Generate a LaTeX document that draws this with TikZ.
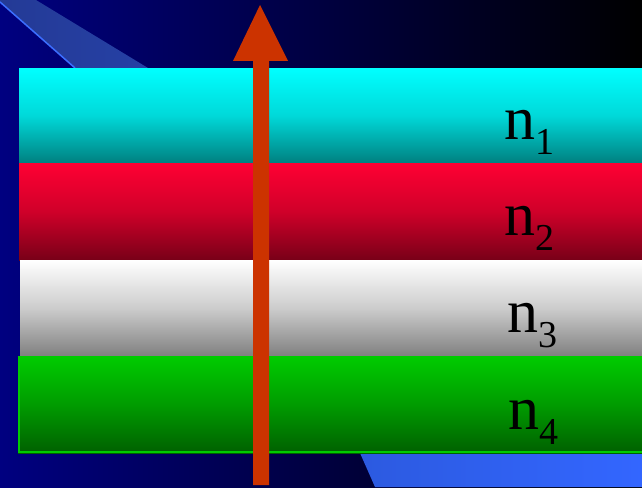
\documentclass[tikz,border=0pt]{standalone}
\usepackage{fontspec}
\setmainfont{Liberation Serif}
\definecolor{navybg}{RGB}{0,0,128}
\definecolor{bandblue}{RGB}{36,58,150}
\definecolor{bandline}{RGB}{60,110,255}
\definecolor{lowblueA}{RGB}{44,90,224}
\definecolor{lowblueB}{RGB}{51,102,255}
\definecolor{arrowred}{RGB}{204,51,0}
\definecolor{cyantop}{RGB}{0,255,255}
\definecolor{cyanbot}{RGB}{0,128,128}
\definecolor{redtop}{RGB}{255,0,51}
\definecolor{redbot}{RGB}{120,0,24}
\definecolor{whitetop}{RGB}{255,255,255}
\definecolor{whitebot}{RGB}{128,128,128}
\definecolor{greentop}{RGB}{0,204,0}
\definecolor{greenbot}{RGB}{0,96,0}
\tikzset{
  lbl/.style={anchor=base west, inner sep=0pt, font=\fontsize{62}{70}\selectfont},
  layer/.style={shading angle=0}
}
\newcommand{\subidx}[1]{\raisebox{-15pt}{\fontsize{38}{40}\selectfont #1}}
\begin{document}
\begin{tikzpicture}[x=1pt,y=-1pt]
\useasboundingbox (0,0) rectangle (642,487);
% background
\shade[left color=navybg, right color=black] (0,0) rectangle (642,487);
% top-left band
\shade[left color=bandblue, right color=bandblue!80!lowblueA] (0,0) -- (36,0) -- (148,68) -- (75,68) -- (0,2) -- cycle;
\draw[bandline, line width=1.5pt] (0,2) -- (75,68);
% bottom-right band
\shade[left color=lowblueA, right color=lowblueB] (360,453) -- (642,453) -- (642,487) -- (375,487) -- cycle;
% layers
\shade[top color=cyantop, bottom color=cyanbot, middle color=cyantop!70!cyanbot] (19,68) rectangle (642,163);
\shade[top color=redtop, bottom color=redbot, middle color=redtop!65!redbot] (19,163) rectangle (642,260);
\shade[top color=whitetop, bottom color=whitebot, middle color=whitetop!60!whitebot] (20,260) rectangle (642,356);
\shade[top color=greentop, bottom color=greenbot, middle color=greentop!55!greenbot] (18,356) rectangle (642,453);
\draw[greentop, line width=2pt] (19,356) -- (19,452) -- (642,452);
% arrow
\fill[arrowred] (253,485) -- (269,485) -- (269,61) -- (288,61) -- (260,5) -- (233,61) -- (253,61) -- cycle;
% labels
\node[lbl] (n1) at (504,139) {n\subidx{1}};
\node[lbl] (n2) at (504,235) {n\subidx{2}};
\node[lbl] (n3) at (507,332) {n\subidx{3}};
\node[lbl] (n4) at (508,429) {n\subidx{4}};
\end{tikzpicture}
\end{document}
